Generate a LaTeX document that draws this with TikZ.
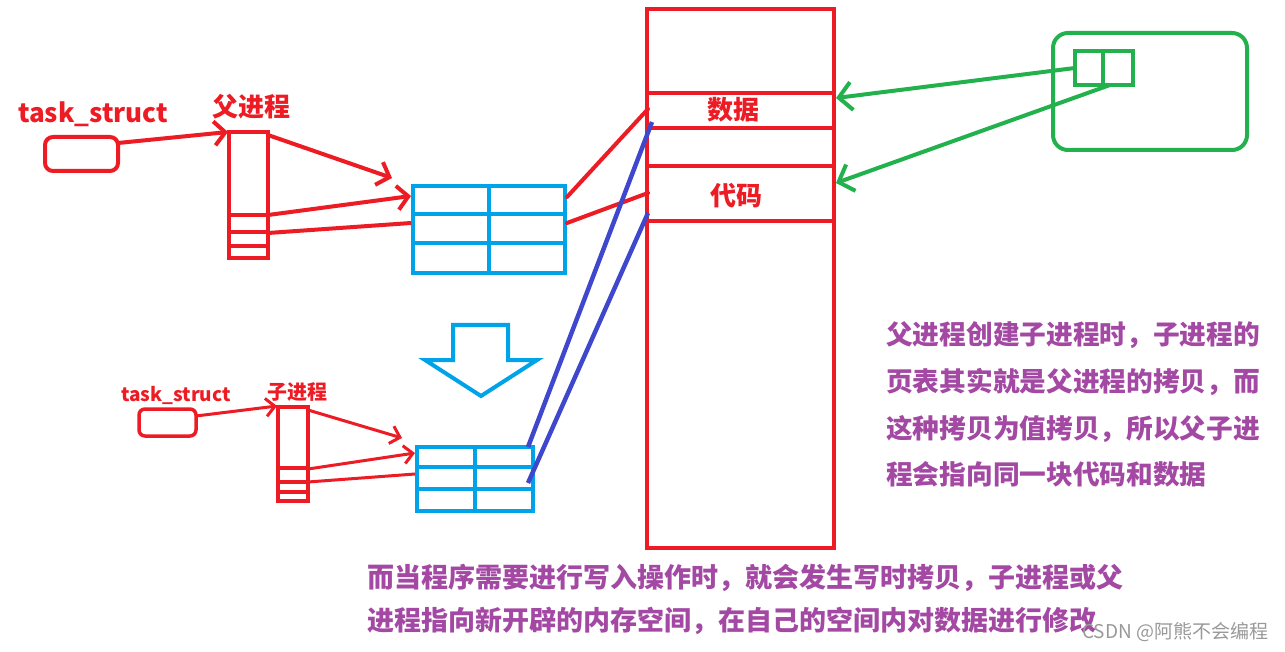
\documentclass[tikz,border=0pt]{standalone}
\usepackage{fontspec}
\newfontfamily\cjk{Noto Sans CJK SC}
\usetikzlibrary{arrows.meta}
\definecolor{pred}{HTML}{ED1C24}
\definecolor{pblue}{HTML}{00A2E8}
\definecolor{pgreen}{HTML}{22B14C}
\definecolor{pindigo}{HTML}{3F48CC}
\definecolor{ppurple}{HTML}{A349A4}
\tikzset{
  box/.style={draw, line width=4pt, inner sep=0pt, outer sep=0pt},
  redbox/.style={box, draw=pred},
  bluebox/.style={box, draw=pblue},
  greenbox/.style={box, draw=pgreen},
  redline/.style={draw=pred, line width=4pt},
  redarrow/.style={redline, -{Straight Barb[length=11pt,width=24pt,line width=4pt]}},
  redarrowsm/.style={draw=pred, line width=3pt, -{Straight Barb[length=9pt,width=18pt,line width=3pt]}},
  greenarrow/.style={draw=pgreen, line width=4pt, -{Straight Barb[length=13pt,width=28pt,line width=4pt]}},
  indigoline/.style={draw=pindigo, line width=4.5pt},
  redlabel/.style={text=pred, font=\cjk\bfseries, inner sep=0pt},
  note/.style={text=ppurple, font=\cjk\bfseries\fontsize{26.7}{30}\selectfont, anchor=west, inner sep=0pt},
}
\begin{document}
\begin{tikzpicture}[x=1pt,y=-1pt]
\useasboundingbox[fill=white] (0,0) rectangle (1285,652);

% ---------- parent ----------
\node[redlabel, font=\cjk\bfseries\fontsize{26}{30}\selectfont] (ts1lbl) at (93,114) {task\_struct};
\node[redbox, rounded corners=8pt, minimum width=73pt, minimum height=34pt] (ts1) at (81.5,154) {};
\node[redlabel, font=\cjk\bfseries\fontsize{26}{30}\selectfont] (plbl) at (251,107) {父进程};
\node[redbox, minimum width=39pt, minimum height=126pt] (pcol) at (248.5,195) {};
\draw[redline] (229,215) -- (268,215);
\draw[redline] (229,232) -- (268,232);
\draw[redline] (229,246) -- (268,246);

\node[bluebox, minimum width=152pt, minimum height=87pt] (ptab) at (489,229.5) {};
\draw[draw=pblue, line width=4pt] (413,214) -- (565,214);
\draw[draw=pblue, line width=4pt] (413,243) -- (565,243);
\draw[draw=pblue, line width=4pt] (489,186) -- (489,273);

% ---------- memory ----------
\node[redbox, minimum width=187pt, minimum height=539pt] (mem) at (740.5,278.5) {};
\draw[redline] (647,93) -- (834,93);
\draw[redline] (647,128) -- (834,128);
\draw[redline] (647,166) -- (834,166);
\draw[redline] (647,221) -- (834,221);
\node[redlabel, font=\cjk\bfseries\fontsize{26}{30}\selectfont] (data) at (733,110) {数据};
\node[redlabel, font=\cjk\bfseries\fontsize{26}{30}\selectfont] (code) at (736,196) {代码};

% ---------- green page table ----------
\node[greenbox, rounded corners=15pt, minimum width=194pt, minimum height=117pt] (gbox) at (1150,91.5) {};
\node[greenbox, minimum width=58pt, minimum height=34pt] (gsmall) at (1104,68) {};
\draw[draw=pgreen, line width=4pt] (1103,51) -- (1103,85);

% ---------- down arrow ----------
\draw[draw=pblue, line width=4pt, line join=miter] (453,325) -- (508,325) -- (508,360) -- (537,360) -- (481,396) -- (425,360) -- (453,360) -- cycle;

% ---------- child ----------
\node[redlabel, font=\cjk\bfseries\fontsize{19}{22}\selectfont] (ts2lbl) at (176,395) {task\_struct};
\node[redbox, line width=3.5pt, rounded corners=6pt, minimum width=57pt, minimum height=27pt] (ts2) at (167.5,422.5) {};
\node[redlabel, font=\cjk\bfseries\fontsize{20}{22}\selectfont] (clbl) at (297,392) {子进程};
\node[redbox, line width=3.5pt, minimum width=30pt, minimum height=94pt] (ccol) at (293,454) {};
\draw[draw=pred, line width=3.5pt] (278,468) -- (308,468);
\draw[draw=pred, line width=3.5pt] (278,482) -- (308,482);
\draw[draw=pred, line width=3.5pt] (278,492) -- (308,492);

\node[bluebox, line width=3.5pt, minimum width=116pt, minimum height=64pt] (ctab) at (475,479) {};
\draw[draw=pblue, line width=3.5pt] (417,467) -- (533,467);
\draw[draw=pblue, line width=3.5pt] (417,489) -- (533,489);
\draw[draw=pblue, line width=3.5pt] (475,447) -- (475,511);

% ---------- named connector end points ----------
\coordinate (e1) at (228,132);
\coordinate (e2) at (392,178);
\coordinate (p2) at (268,135);
\coordinate (p3) at (268,215);
\coordinate (p4) at (268,233);
\coordinate (e3) at (411,196);
\coordinate (e4) at (411,223);
\coordinate (t1) at (567,197);
\coordinate (t2) at (567,223);
\coordinate (m1) at (648,109);
\coordinate (m2) at (648,193);
\coordinate (b1s) at (652,122);
\coordinate (b1e) at (528,447);
\coordinate (b2s) at (648,213);
\coordinate (b2e) at (528,483);
\coordinate (g1s) at (1075,68);
\coordinate (g1e) at (836,98);
\coordinate (g2s) at (1110,85);
\coordinate (g2e) at (836,183);
\coordinate (c0s) at (196,416);
\coordinate (c0e) at (277,406);
\coordinate (c1s) at (308,410);
\coordinate (c1e) at (402,438);
\coordinate (c2s) at (308,469);
\coordinate (c2e) at (415,453);
\coordinate (c3s) at (308,482);
\coordinate (c3e) at (415,474);

% ---------- connectors ----------
\draw[redarrow] (ts1.east |- 0,143) -- (e1);
\draw[redarrow] (p2) -- (e2);
\draw[redarrow] (p3) -- (e3);
\draw[redline] (p4) -- (e4);
\draw[redline, line cap=round] (t1) -- (m1);
\draw[redline, line cap=round] (t2) -- (m2);
\draw[indigoline] (b1s) -- (b1e);
\draw[indigoline] (b2s) -- (b2e);
\draw[greenarrow] (g1s) -- (g1e);
\draw[greenarrow] (g2s) -- (g2e);
\draw[redarrowsm] (c0s) -- (c0e);
\draw[redarrowsm] (c1s) -- (c1e);
\draw[redarrowsm] (c2s) -- (c2e);
\draw[draw=pred, line width=3pt] (c3s) -- (c3e);

% ---------- notes ----------
\node[note] (n1) at (886,335) {父进程创建子进程时，子进程的};
\node[note] (n2) at (886,382) {页表其实就是父进程的拷贝，而};
\node[note] (n3) at (886,429) {这种拷贝为值拷贝，所以父子进};
\node[note] (n4) at (886,474) {程会指向同一块代码和数据};
\node[note, font=\cjk\bfseries\fontsize{27}{30}\selectfont] (n5) at (367,578) {而当程序需要进行写入操作时，就会发生写时拷贝，子进程或父};
\node[note, font=\cjk\bfseries\fontsize{27}{30}\selectfont] (n6) at (367,621) {进程指向新开辟的内存空间，在自己的空间内对数据进行修改};
\node[text=black!40, font=\cjk\fontsize{19}{20}\selectfont, anchor=west, inner sep=0pt] (wm) at (1082,632) {CSDN @阿熊不会编程};
\end{tikzpicture}
\end{document}
